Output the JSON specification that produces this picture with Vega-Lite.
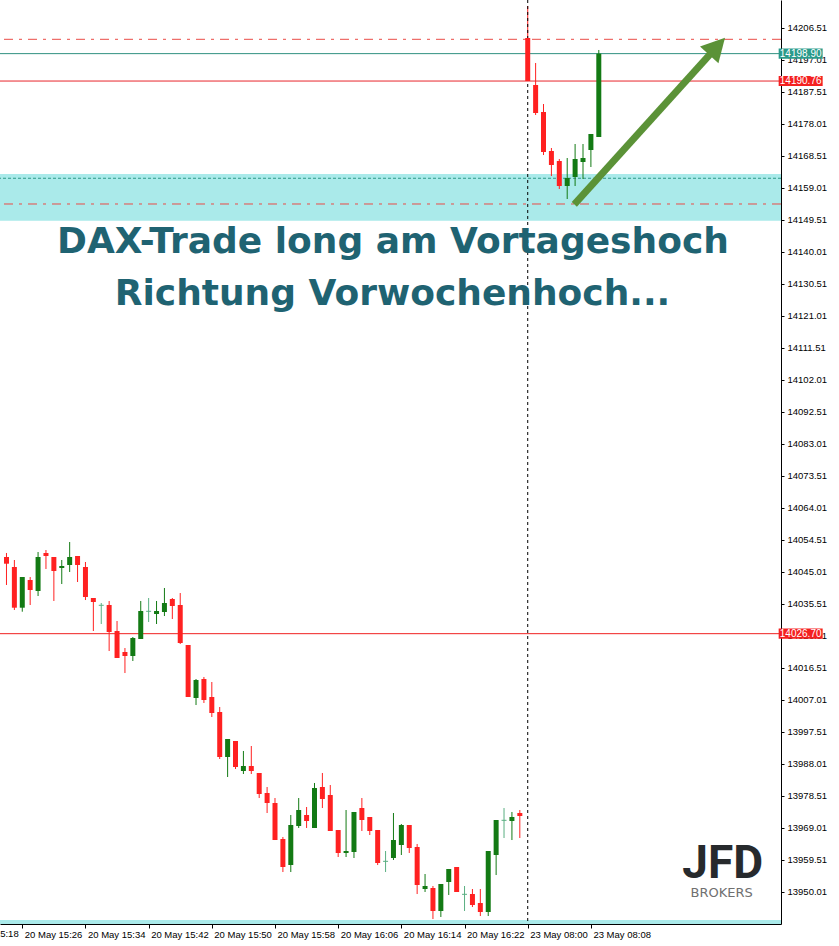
{
  "$schema": "https://vega.github.io/schema/vega-lite/v6.json",
  "width": 781,
  "height": 924,
  "autosize": {"type": "none"},
  "padding": {"left": 0, "top": 0, "right": 58, "bottom": 22},
  "background": "white",
  "config": {
    "view": {"stroke": null},
    "axis": {"domainColor": "black", "tickColor": "black", "labelColor": "black", "grid": false, "labelFont": "Liberation Sans", "domainWidth": 1, "tickWidth": 1, "labelOverlap": false, "labelFlush": false, "labelBound": false}
  },
  "datasets": {
    "candles": [
      {"i":0,"o":14049.46,"h":14050.65,"l":14041.15,"c":14047.47},
      {"i":1,"o":14046.49,"h":14048.57,"l":14033.73,"c":14034.41},
      {"i":2,"o":14034.41,"h":14043.52,"l":14033.22,"c":14043.52},
      {"i":3,"o":14042.63,"h":14043.52,"l":14035.21,"c":14039.66},
      {"i":4,"o":14039.37,"h":14050.94,"l":14037.88,"c":14049.46},
      {"i":5,"o":14050.65,"h":14051.54,"l":14045.90,"c":14049.76},
      {"i":6,"o":14049.46,"h":14049.46,"l":14036.40,"c":14045.30},
      {"i":7,"o":14046.19,"h":14048.57,"l":14041.44,"c":14046.79},
      {"i":8,"o":14047.09,"h":14053.91,"l":14045.01,"c":14049.46},
      {"i":9,"o":14049.76,"h":14049.76,"l":14042.04,"c":14047.09},
      {"i":10,"o":14046.49,"h":14047.98,"l":14036.69,"c":14037.59},
      {"i":11,"o":14037.29,"h":14037.29,"l":14027.49,"c":14036.10},
      {"i":12,"o":14035.12,"h":14035.80,"l":14029.57,"c":14035.12},
      {"i":13,"o":14035.21,"h":14036.40,"l":14021.55,"c":14027.19},
      {"i":14,"o":14027.49,"h":14030.46,"l":14019.48,"c":14019.48},
      {"i":15,"o":14021.26,"h":14022.44,"l":14015.02,"c":14020.07},
      {"i":16,"o":14020.07,"h":14025.71,"l":14018.59,"c":14025.41},
      {"i":17,"o":14025.12,"h":14036.40,"l":14025.12,"c":14033.43},
      {"i":18,"o":14033.34,"h":14037.29,"l":14030.16,"c":14033.34},
      {"i":19,"o":14032.54,"h":14036.40,"l":14029.57,"c":14033.43},
      {"i":20,"o":14033.13,"h":14040.26,"l":14031.94,"c":14035.80},
      {"i":21,"o":14036.99,"h":14037.29,"l":14031.05,"c":14034.91},
      {"i":22,"o":14035.21,"h":14038.77,"l":14023.63,"c":14023.93},
      {"i":23,"o":14023.34,"h":14023.34,"l":14007.90,"c":14007.90},
      {"i":24,"o":14007.60,"h":14013.24,"l":14005.52,"c":14012.94},
      {"i":25,"o":14013.24,"h":14013.84,"l":14006.12,"c":14007.01},
      {"i":26,"o":14007.90,"h":14012.35,"l":14001.96,"c":14003.15},
      {"i":27,"o":14003.44,"h":14004.93,"l":13989.49,"c":13990.09},
      {"i":28,"o":13990.09,"h":13995.43,"l":13984.15,"c":13995.43},
      {"i":29,"o":13994.84,"h":13994.84,"l":13986.52,"c":13987.12},
      {"i":30,"o":13985.93,"h":13991.87,"l":13985.04,"c":13987.41},
      {"i":31,"o":13987.41,"h":13993.35,"l":13985.04,"c":13985.93},
      {"i":32,"o":13985.34,"h":13985.34,"l":13977.91,"c":13979.10},
      {"i":33,"o":13979.40,"h":13981.18,"l":13973.46,"c":13976.43},
      {"i":34,"o":13976.43,"h":13977.91,"l":13965.44,"c":13965.44},
      {"i":35,"o":13965.74,"h":13966.34,"l":13955.94,"c":13957.43},
      {"i":36,"o":13958.02,"h":13972.87,"l":13955.94,"c":13969.90},
      {"i":37,"o":13969.60,"h":13977.91,"l":13969.01,"c":13974.35},
      {"i":38,"o":13972.87,"h":13975.24,"l":13969.01,"c":13971.09},
      {"i":39,"o":13969.01,"h":13982.37,"l":13969.01,"c":13980.88},
      {"i":40,"o":13981.18,"h":13985.34,"l":13974.94,"c":13977.62},
      {"i":41,"o":13978.80,"h":13981.77,"l":13968.12,"c":13968.12},
      {"i":42,"o":13968.41,"h":13968.41,"l":13960.40,"c":13961.59},
      {"i":43,"o":13961.59,"h":13974.35,"l":13960.40,"c":13962.18},
      {"i":44,"o":13961.88,"h":13973.76,"l":13960.10,"c":13973.76},
      {"i":45,"o":13974.94,"h":13977.91,"l":13968.12,"c":13971.38},
      {"i":46,"o":13972.27,"h":13972.27,"l":13966.93,"c":13968.12},
      {"i":47,"o":13968.41,"h":13968.41,"l":13958.02,"c":13958.62},
      {"i":48,"o":13959.12,"h":13962.18,"l":13955.94,"c":13959.12},
      {"i":49,"o":13960.10,"h":13973.46,"l":13959.51,"c":13965.44},
      {"i":50,"o":13963.96,"h":13970.19,"l":13960.99,"c":13969.90},
      {"i":51,"o":13969.90,"h":13969.90,"l":13961.59,"c":13963.07},
      {"i":52,"o":13963.37,"h":13964.26,"l":13949.41,"c":13952.09},
      {"i":53,"o":13950.90,"h":13955.35,"l":13950.01,"c":13951.79},
      {"i":54,"o":13951.19,"h":13951.79,"l":13941.99,"c":13944.37},
      {"i":55,"o":13944.37,"h":13952.38,"l":13942.59,"c":13952.38},
      {"i":56,"o":13952.98,"h":13956.84,"l":13949.12,"c":13956.84},
      {"i":57,"o":13957.43,"h":13957.43,"l":13950.01,"c":13950.01},
      {"i":58,"o":13949.32,"h":13951.79,"l":13944.37,"c":13949.32},
      {"i":59,"o":13949.41,"h":13950.90,"l":13945.55,"c":13946.15},
      {"i":60,"o":13946.74,"h":13950.90,"l":13942.88,"c":13944.07},
      {"i":61,"o":13944.07,"h":13962.18,"l":13942.88,"c":13962.18},
      {"i":62,"o":13960.99,"h":13971.38,"l":13955.05,"c":13971.38},
      {"i":63,"o":13971.29,"h":13974.94,"l":13966.04,"c":13971.29},
      {"i":64,"o":13971.09,"h":13973.76,"l":13965.44,"c":13972.27},
      {"i":65,"o":13973.46,"h":13974.35,"l":13966.04,"c":13972.57},
      {"i":66,"o":14203.54,"h":14213.04,"l":14190.77,"c":14190.77},
      {"i":67,"o":14189.59,"h":14196.12,"l":14180.68,"c":14181.27},
      {"i":68,"o":14181.57,"h":14183.94,"l":14168.80,"c":14169.69},
      {"i":69,"o":14169.99,"h":14170.88,"l":14162.57,"c":14165.84},
      {"i":70,"o":14167.02,"h":14167.62,"l":14158.71,"c":14159.60},
      {"i":71,"o":14159.60,"h":14167.91,"l":14155.74,"c":14161.98},
      {"i":72,"o":14162.27,"h":14172.07,"l":14159.60,"c":14167.62},
      {"i":73,"o":14166.73,"h":14172.07,"l":14161.68,"c":14167.91},
      {"i":74,"o":14170.29,"h":14175.04,"l":14165.24,"c":14175.04},
      {"i":75,"o":14174.15,"h":14199.98,"l":14174.15,"c":14198.90}
    ],
    "boxes": [{"p": 14198.90}, {"p": 14190.76}, {"p": 14026.70}],
    "one": [{}]
  },
  "layer": [
    {
      "data": {"name": "one"},
      "mark": {"type": "rect", "color": "#aaeaea"},
      "encoding": {
        "y": {"datum": 14163.17, "type": "quantitative", "scale": {"domain": [13940.51, 14214.82], "zero": false, "nice": false},
          "axis": {"orient": "right", "title": null, "tickCount": 40, "values": [14206.51,14197.01,14187.51,14178.01,14168.51,14159.01,14149.51,14140.01,14130.51,14121.01,14111.51,14102.01,14092.51,14083.01,14073.51,14064.01,14054.51,14045.01,14035.51,14026.01,14016.51,14007.01,13997.51,13988.01,13978.51,13969.01,13959.51,13950.01], "format": ".2f", "tickSize": 3, "labelPadding": 3, "labelFontSize": 9.5, "labelFlush": false, "labelOverlap": false, "labelBound": false}},
        "y2": {"datum": 14149.3}
      }
    },
    {
      "data": {"name": "one"},
      "mark": {"type": "rect", "color": "#aaeaea"},
      "encoding": {"y": {"datum": 13941.7, "type": "quantitative"}, "y2": {"datum": 13940.51}}
    },
    {
      "data": {"name": "one"},
      "mark": {"type": "rule", "color": "#2f9a88", "strokeWidth": 1, "strokeDash": [3, 2]},
      "encoding": {"y": {"datum": 14161.9, "type": "quantitative"}}
    },
    {
      "data": {"name": "one"},
      "mark": {"type": "rule", "color": "#ea4b47", "strokeWidth": 1, "strokeDash": [9, 6, 3, 6]},
      "encoding": {"y": {"datum": 14203.15, "type": "quantitative"}}
    },
    {
      "data": {"name": "one"},
      "mark": {"type": "rule", "color": "#ea4b47", "strokeWidth": 1, "strokeDash": [9, 6, 3, 6]},
      "encoding": {"y": {"datum": 14154.26, "type": "quantitative"}}
    },
    {
      "data": {"name": "one"},
      "mark": {"type": "rule", "color": "#2f9080", "strokeWidth": 1},
      "encoding": {"y": {"datum": 14198.90, "type": "quantitative"}}
    },
    {
      "data": {"name": "one"},
      "mark": {"type": "rule", "color": "#e8262b", "strokeWidth": 1},
      "encoding": {"y": {"datum": 14190.76, "type": "quantitative"}}
    },
    {
      "data": {"name": "one"},
      "mark": {"type": "rule", "color": "#f02020", "strokeWidth": 1},
      "encoding": {"y": {"datum": 14026.70, "type": "quantitative"}}
    },
    {
      "data": {"name": "candles"},
      "mark": {"type": "rule", "strokeWidth": 1},
      "encoding": {
        "x": {"field": "i", "type": "quantitative", "scale": {"domain": [-0.1875, 97.4375], "zero": false, "nice": false},
          "axis": {"orient": "bottom", "title": null, "tickCount": 40, "values": [2,10,18,26,34,42,50,58,66,74],
            "labelExpr": "['20 May 15:26','20 May 15:34','20 May 15:42','20 May 15:50','20 May 15:58','20 May 16:06','20 May 16:14','20 May 16:22','23 May 08:00','23 May 08:08'][(datum.value-2)/8]",
            "labelAlign": "left", "labelOffset": 2, "labelPadding": 1, "tickSize": 4, "labelFontSize": 9.5, "labelFlush": false, "labelOverlap": false, "labelBound": false}},
        "y": {"field": "h", "type": "quantitative"},
        "y2": {"field": "l"},
        "color": {"condition": [{"test": "datum.c > datum.o", "value": "#137a14"}, {"test": "datum.c < datum.o", "value": "#ff2121"}], "value": "#5aaf82"}
      }
    },
    {
      "data": {"name": "one"},
      "mark": {"type": "rule", "color": "black", "strokeWidth": 1, "strokeDash": [3, 3]},
      "encoding": {"x": {"datum": 66, "type": "quantitative"}}
    },
    {
      "data": {"name": "candles"},
      "transform": [{"filter": "datum.o != datum.c"}],
      "mark": {"type": "bar", "size": 5},
      "encoding": {
        "x": {"field": "i", "type": "quantitative"},
        "y": {"field": "o", "type": "quantitative"},
        "y2": {"field": "c"},
        "color": {"condition": [{"test": "datum.c > datum.o", "value": "#137a14"}], "value": "#ff2121"}
      }
    },
    {
      "data": {"name": "candles"},
      "transform": [{"filter": "datum.o == datum.c"}],
      "mark": {"type": "point", "shape": "M-1,0H1", "size": 25, "filled": false, "strokeWidth": 1, "color": "#5aaf82", "opacity": 1},
      "encoding": {
        "x": {"field": "i", "type": "quantitative"},
        "y": {"field": "o", "type": "quantitative"}
      }
    },
    {
      "data": {"name": "one"},
      "mark": {"type": "rule", "color": "#5b9237", "strokeWidth": 7, "strokeCap": "butt"},
      "encoding": {
        "x": {"datum": 71.9, "type": "quantitative"},
        "y": {"datum": 14154.17, "type": "quantitative"},
        "x2": {"datum": 89.96},
        "y2": {"datum": 14201.0}
      }
    },
    {
      "data": {"name": "one"},
      "mark": {"type": "point", "shape": "M0,0L-1,1.87L1,1.87Z", "size": 625, "filled": true, "color": "#5b9237", "opacity": 1, "angle": 42.5},
      "encoding": {
        "x": {"datum": 90.98, "type": "quantitative"},
        "y": {"datum": 14203.63, "type": "quantitative"}
      }
    },
    {
      "data": {"name": "one"},
      "mark": {"type": "text", "font": "DejaVu Sans", "fontWeight": "bold", "fontSize": 36, "color": "#1f6372", "align": "center", "baseline": "alphabetic", "text": "DAX-Trade long am Vortageshoch"},
      "encoding": {
        "x": {"datum": 48.94, "type": "quantitative"},
        "y": {"datum": 14139.71, "type": "quantitative"}
      }
    },
    {
      "data": {"name": "one"},
      "mark": {"type": "text", "font": "DejaVu Sans", "fontWeight": "bold", "fontSize": 36, "color": "#1f6372", "align": "center", "baseline": "alphabetic", "text": "Richtung Vorwochenhoch..."},
      "encoding": {
        "x": {"datum": 48.88, "type": "quantitative"},
        "y": {"datum": 14124.27, "type": "quantitative"}
      }
    },
    {
      "data": {"name": "one"},
      "mark": {"type": "text", "font": "Roboto", "fontWeight": "bold", "fontSize": 46, "color": "#272a2d", "align": "center", "baseline": "alphabetic", "text": "JFD"},
      "encoding": {
        "x": {"datum": 90.69, "type": "quantitative"},
        "y": {"datum": 13954.16, "type": "quantitative"}
      }
    },
    {
      "data": {"name": "one"},
      "mark": {"type": "text", "font": "DejaVu Sans", "fontSize": 13, "color": "#707070", "align": "center", "baseline": "alphabetic", "text": "BROKERS"},
      "encoding": {
        "x": {"datum": 90.56, "type": "quantitative"},
        "y": {"datum": 13948.5, "type": "quantitative"}
      }
    },
    {
      "data": {"name": "boxes"},
      "mark": {"type": "point", "shape": "M-1,-0.23H1V0.23H-1Z", "size": 1936, "filled": true, "opacity": 1},
      "encoding": {
        "x": {"datum": 100.56, "type": "quantitative"},
        "y": {"field": "p", "type": "quantitative"},
        "color": {"condition": {"test": "datum.p == 14198.90", "value": "#2a9a8a"}, "value": "#f42020"}
      }
    },
    {
      "data": {"name": "boxes"},
      "mark": {"type": "text", "font": "Liberation Sans", "fontSize": 10, "color": "white", "align": "center", "baseline": "middle"},
      "encoding": {
        "x": {"datum": 100.56, "type": "quantitative"},
        "y": {"field": "p", "type": "quantitative"},
        "text": {"field": "p", "type": "quantitative", "format": ".2f"}
      }
    },
    {
      "data": {"name": "one"},
      "mark": {"type": "text", "font": "Liberation Sans", "fontSize": 9.5, "color": "black", "align": "left", "baseline": "top", "dx": 2, "text": "20 May 15:18"},
      "encoding": {
        "x": {"datum": -6, "type": "quantitative"},
        "y": {"datum": 13939.02, "type": "quantitative"}
      }
    }
  ]
}
